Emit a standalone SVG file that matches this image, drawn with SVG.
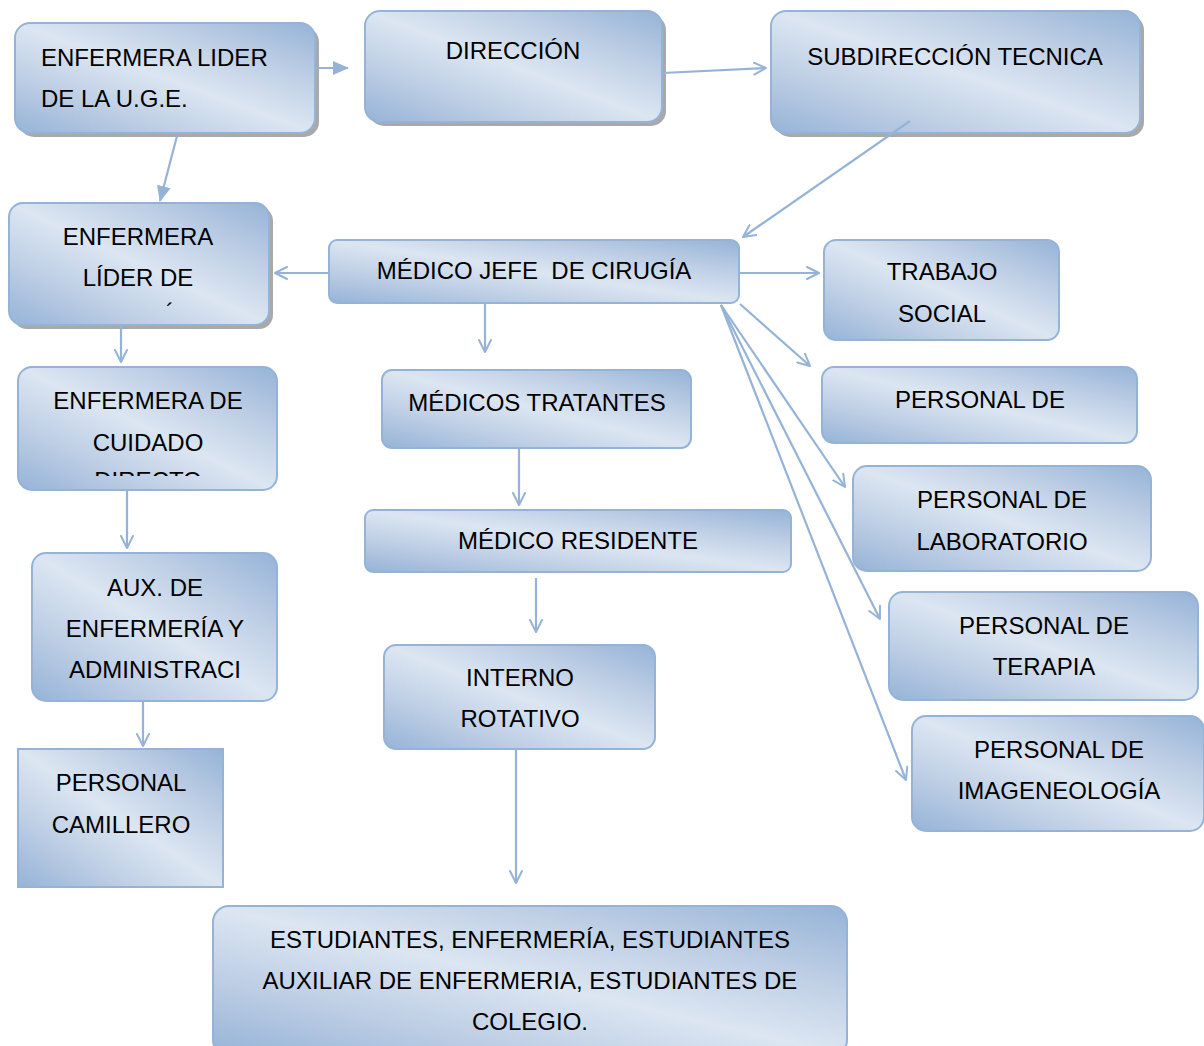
<svg xmlns="http://www.w3.org/2000/svg" width="1204" height="1046" viewBox="0 0 1204 1046">
  <defs>
    <linearGradient id="fill" x1="0" y1="1" x2="1" y2="0">
      <stop offset="0" stop-color="#95b3d7"/>
      <stop offset="0.25" stop-color="#bccde4"/>
      <stop offset="0.5" stop-color="#dce6f2"/>
      <stop offset="0.75" stop-color="#bccde4"/>
      <stop offset="1" stop-color="#95b3d7"/>
    </linearGradient>
    <marker id="open" viewBox="0 0 14 14" refX="13" refY="7" markerWidth="14" markerHeight="14" markerUnits="userSpaceOnUse" orient="auto">
      <path d="M1,1 L13,7 L1,13" fill="none" stroke="#95b3d7" stroke-width="2" stroke-linecap="round" stroke-linejoin="round"/>
    </marker>
    <marker id="solid" viewBox="0 0 16 16" refX="15" refY="8" markerWidth="16" markerHeight="16" markerUnits="userSpaceOnUse" orient="auto">
      <path d="M0,1 L16,8 L0,15 Z" fill="#95b3d7"/>
    </marker>
    <clipPath id="clipCuidado">
      <rect x="18" y="367" width="259" height="109"/>
    </clipPath>
  </defs>
  <style>
    .box { fill: url(#fill); stroke: #95b3d7; stroke-width: 2; }
    .shadow { fill: #8c8c8c; opacity: 0.75; }
    .t { font-family: "Liberation Sans", Arial, sans-serif; font-size: 24px; fill: #000; text-anchor: middle; white-space: pre; }
    .l { text-anchor: start; }
    .conn { fill: none; stroke: #95b3d7; stroke-width: 2.2; }
  </style>

  <!-- nodes -->
  <g id="enfermera-lider-uge">
    <rect class="shadow" x="19" y="27" width="300" height="110" rx="15"/>
    <rect class="box" x="15" y="23" width="300" height="110" rx="15"/>
    <text class="t l" x="41" y="66">ENFERMERA LIDER</text>
    <text class="t l" x="41" y="107">DE LA U.G.E.</text>
  </g>

  <g id="direccion">
    <rect class="shadow" x="369" y="15" width="297" height="111" rx="15"/>
    <rect class="box" x="365" y="11" width="297" height="111" rx="15"/>
    <text class="t" x="513" y="59">DIRECCIÓN</text>
  </g>

  <g id="subdireccion-tecnica">
    <rect class="shadow" x="775" y="15" width="369" height="122" rx="15"/>
    <rect class="box" x="771" y="11" width="369" height="122" rx="15"/>
    <text class="t" x="955" y="65">SUBDIRECCIÓN TECNICA</text>
  </g>

  <g id="enfermera-lider-de">
    <rect class="shadow" x="13" y="207" width="260" height="122" rx="14"/>
    <rect class="box" x="9" y="203" width="260" height="122" rx="14"/>
    <text class="t" x="138" y="245">ENFERMERA</text>
    <text class="t" x="138" y="286">LÍDER DE</text>
    <text class="t" x="170" y="320">´</text>
  </g>

  <g id="medico-jefe">
    <rect class="box" x="329" y="240" width="410" height="63" rx="8"/>
    <text class="t" x="534" y="279">MÉDICO JEFE  DE CIRUGÍA</text>
  </g>

  <g id="trabajo-social">
    <rect class="box" x="824" y="240" width="235" height="100" rx="12"/>
    <text class="t" x="942" y="280">TRABAJO</text>
    <text class="t" x="942" y="322">SOCIAL</text>
  </g>

  <g id="personal-de">
    <rect class="box" x="822" y="367" width="315" height="76" rx="12"/>
    <text class="t" x="980" y="408">PERSONAL DE</text>
  </g>

  <g id="personal-laboratorio">
    <rect class="box" x="853" y="466" width="298" height="105" rx="14"/>
    <text class="t" x="1002" y="508">PERSONAL DE</text>
    <text class="t" x="1002" y="550">LABORATORIO</text>
  </g>

  <g id="personal-terapia">
    <rect class="box" x="889" y="592" width="309" height="108" rx="14"/>
    <text class="t" x="1044" y="634">PERSONAL DE</text>
    <text class="t" x="1044" y="675">TERAPIA</text>
  </g>

  <g id="personal-imageneologia">
    <rect class="box" x="912" y="716" width="292" height="115" rx="14"/>
    <text class="t" x="1059" y="758">PERSONAL DE</text>
    <text class="t" x="1059" y="799">IMAGENEOLOGÍA</text>
  </g>

  <g id="enfermera-cuidado-directo">
    <rect class="box" x="18" y="367" width="259" height="123" rx="14"/>
    <text class="t" x="148" y="409">ENFERMERA DE</text>
    <text class="t" x="148" y="451">CUIDADO</text>
    <text class="t" x="148" y="489" clip-path="url(#clipCuidado)">DIRECTO</text>
  </g>

  <g id="medicos-tratantes">
    <rect class="box" x="382" y="370" width="309" height="78" rx="10"/>
    <text class="t" x="537" y="411">MÉDICOS TRATANTES</text>
  </g>

  <g id="medico-residente">
    <rect class="box" x="365" y="510" width="426" height="62" rx="8"/>
    <text class="t" x="578" y="549">MÉDICO RESIDENTE</text>
  </g>

  <g id="aux-enfermeria">
    <rect class="box" x="32" y="553" width="245" height="148" rx="14"/>
    <text class="t" x="155" y="596">AUX. DE</text>
    <text class="t" x="155" y="637">ENFERMERÍA Y</text>
    <text class="t" x="155" y="678">ADMINISTRACI</text>
  </g>

  <g id="interno-rotativo">
    <rect class="box" x="384" y="645" width="271" height="104" rx="12"/>
    <text class="t" x="520" y="686">INTERNO</text>
    <text class="t" x="520" y="727">ROTATIVO</text>
  </g>

  <g id="personal-camillero">
    <rect class="box" x="18" y="749" width="205" height="138"/>
    <text class="t" x="121" y="791">PERSONAL</text>
    <text class="t" x="121" y="833">CAMILLERO</text>
  </g>

  <g id="estudiantes">
    <rect class="box" x="213" y="906" width="634" height="150" rx="16"/>
    <text class="t" x="530" y="948">ESTUDIANTES, ENFERMERÍA, ESTUDIANTES</text>
    <text class="t" x="530" y="989">AUXILIAR DE ENFERMERIA, ESTUDIANTES DE</text>
    <text class="t" x="530" y="1030">COLEGIO.</text>
  </g>

  <!-- connectors, drawn over the boxes -->
  <g id="connectors">
    <line class="conn" x1="315" y1="68" x2="348" y2="68" marker-end="url(#solid)"/>
    <line class="conn" x1="662" y1="73" x2="766" y2="68" marker-end="url(#open)"/>
    <line class="conn" x1="177" y1="136" x2="160" y2="201" marker-end="url(#solid)"/>
    <line class="conn" x1="910" y1="121" x2="743" y2="237" marker-end="url(#open)"/>
    <line class="conn" x1="329" y1="273" x2="275" y2="273" marker-end="url(#open)"/>
    <line class="conn" x1="739" y1="273" x2="819" y2="273" marker-end="url(#open)"/>
    <line class="conn" x1="740" y1="304" x2="810" y2="366" marker-end="url(#open)"/>
    <line class="conn" x1="721" y1="305" x2="845" y2="487" marker-end="url(#open)"/>
    <line class="conn" x1="721" y1="305" x2="880" y2="619" marker-end="url(#open)"/>
    <line class="conn" x1="721" y1="305" x2="906" y2="780" marker-end="url(#open)"/>
    <line class="conn" x1="485" y1="304" x2="485" y2="352" marker-end="url(#open)"/>
    <line class="conn" x1="121" y1="326" x2="121" y2="362" marker-end="url(#open)"/>
    <line class="conn" x1="127" y1="491" x2="127" y2="548" marker-end="url(#open)"/>
    <line class="conn" x1="143" y1="702" x2="143" y2="746" marker-end="url(#open)"/>
    <line class="conn" x1="519" y1="449" x2="519" y2="505" marker-end="url(#open)"/>
    <line class="conn" x1="536" y1="578" x2="536" y2="632" marker-end="url(#open)"/>
    <line class="conn" x1="516" y1="750" x2="516" y2="883" marker-end="url(#open)"/>
  </g>
</svg>
